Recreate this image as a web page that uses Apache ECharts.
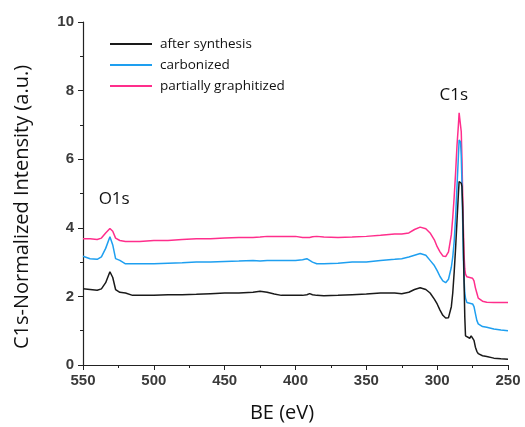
<!DOCTYPE html>
<html>
<head>
<meta charset="utf-8">
<script src="https://cdn.jsdelivr.net/npm/echarts@6/dist/echarts.min.js"></script>
<style>
  html, body { margin: 0; padding: 0; background: #fff; }
  #chart { width: 525px; height: 427px; }
</style>
</head>
<body>
<div id="chart"></div>
<script>
// Binding energy (eV) sampling points shared by all three spectra
const bindingEnergy = [550,545,540,537,534,531,529,527,524,520,515,510,500,490,480,470,460,450,440,430,425,420,415,410,400,395,392,390,388,385,380,370,360,350,340,330,325,320,316,312,308,305,302,300,298,296,294,292,290,289,288,287,286,285,284.5,283.5,283,282.5,282,281.5,281,280.5,280,279,277,276,275,274,273,272,271,270,268,265,260,255,250];

// C1s-normalized intensities (a.u.)
const afterSynthesis = [2.22,2.2,2.18,2.22,2.4,2.72,2.55,2.2,2.12,2.1,2.03,2.03,2.03,2.05,2.05,2.06,2.08,2.1,2.1,2.12,2.15,2.12,2.07,2.03,2.03,2.03,2.05,2.08,2.05,2.03,2.02,2.03,2.05,2.07,2.1,2.1,2.08,2.12,2.2,2.25,2.2,2.1,1.92,1.78,1.6,1.45,1.37,1.38,1.7,2.1,2.7,3.4,4.2,5.0,5.35,5.38,5.3,5.2,4.6,3.6,2.4,1.4,0.85,0.8,0.78,0.85,0.83,0.72,0.52,0.4,0.33,0.3,0.27,0.25,0.2,0.18,0.17];
const carbonized = [3.17,3.1,3.08,3.15,3.4,3.74,3.5,3.1,3.05,2.95,2.95,2.95,2.95,2.97,2.98,3.0,3.0,3.02,3.03,3.05,3.03,3.05,3.05,3.05,3.05,3.07,3.1,3.05,3.0,2.95,2.95,2.97,3.0,3.0,3.05,3.08,3.1,3.15,3.2,3.25,3.2,3.05,2.9,2.75,2.58,2.45,2.4,2.5,2.85,3.15,3.6,4.3,5.2,6.1,6.56,6.5,6.1,5.3,4.2,3.1,2.5,2.1,1.95,1.82,1.8,1.78,1.78,1.7,1.5,1.3,1.2,1.15,1.12,1.1,1.05,1.02,1.0];
const partiallyGraphitized = [3.68,3.68,3.66,3.7,3.85,3.98,3.9,3.7,3.63,3.6,3.6,3.6,3.63,3.63,3.66,3.68,3.68,3.7,3.72,3.72,3.73,3.75,3.75,3.75,3.75,3.72,3.72,3.72,3.74,3.75,3.73,3.72,3.73,3.75,3.78,3.82,3.82,3.85,3.95,4.02,3.97,3.85,3.65,3.45,3.3,3.18,3.16,3.3,3.8,4.3,4.9,5.6,6.4,7.0,7.35,7.3,6.8,6.0,5.0,4.0,3.2,2.8,2.65,2.57,2.55,2.55,2.53,2.45,2.25,2.1,1.95,1.9,1.86,1.83,1.82,1.82,1.82];

const seriesNames = ['after synthesis', 'carbonized', 'partially graphitized'];
const seriesValues = [afterSynthesis, carbonized, partiallyGraphitized];
const seriesColors = ['#1a1a1a', '#1e9ff0', '#ff2e8c'];

// Peak annotations: [text, BE, intensity]
const peakLabels = [['O1s', 528, 4.84], ['C1s', 288.3, 7.87]];

const xTicks = { min: 250, max: 550, interval: 50 };
const yTicks = { min: 0, max: 10, interval: 2 };

const tickFont = { fontFamily: 'Liberation Sans, Arial, sans-serif', fontWeight: 'bold', fontSize: 15, color: '#3a3a3a' };
const textFont = 'Open Sans, sans-serif';

const chart = echarts.init(document.getElementById('chart'), null, { renderer: 'canvas' });

const series = seriesNames.map((name, i) => ({
  name,
  type: 'line',
  data: bindingEnergy.map((x, j) => [x, seriesValues[i][j]]),
  showSymbol: false,
  symbol: 'none',
  lineStyle: { color: seriesColors[i], width: 1.5 },
  itemStyle: { color: seriesColors[i] },
  z: 3 - i,
  animation: false
}));

series[0].markPoint = {
  symbol: 'circle',
  symbolSize: 0,
  silent: true,
  data: peakLabels.map(([t, x, y]) => ({
    coord: [x, y],
    value: t,
    label: { show: true, formatter: t, position: 'inside', color: '#111', fontSize: 17, fontFamily: textFont }
  }))
};

chart.setOption({
  animation: false,
  backgroundColor: '#fff',
  grid: { left: 83, right: 17, top: 22, bottom: 62, containLabel: false },
  legend: {
    orient: 'vertical',
    left: 105,
    top: 32,
    icon: 'rect',
    itemWidth: 42,
    itemHeight: 2,
    itemGap: 7,
    data: seriesNames,
    textStyle: { fontFamily: textFont, fontSize: 13.5, color: '#111', padding: [0, 0, 0, 3] }
  },
  xAxis: {
    type: 'value',
    inverse: true,
    min: xTicks.min,
    max: xTicks.max,
    interval: xTicks.interval,
    axisLine: { show: true, lineStyle: { color: '#222', width: 1.2 } },
    axisTick: { show: true, inside: false, length: 5, lineStyle: { color: '#222' } },
    minorTick: { show: true, splitNumber: 2, length: 3, lineStyle: { color: '#222' } },
    splitLine: { show: false },
    axisLabel: Object.assign({ margin: 8 }, tickFont)
  },
  yAxis: {
    type: 'value',
    min: yTicks.min,
    max: yTicks.max,
    interval: yTicks.interval,
    axisLine: { show: true, lineStyle: { color: '#222', width: 1.2 } },
    axisTick: { show: true, inside: false, length: 5, lineStyle: { color: '#222' } },
    minorTick: { show: true, splitNumber: 2, length: 3, lineStyle: { color: '#222' } },
    splitLine: { show: false },
    axisLabel: Object.assign({ margin: 9 }, tickFont)
  },
  graphic: [
    {
      type: 'text',
      x: 22, y: 207,
      rotation: Math.PI / 2,
      style: { text: 'C1s-Normalized Intensity (a.u.)', font: '20px ' + textFont, fill: '#111', align: 'center', verticalAlign: 'middle' }
    },
    {
      type: 'text',
      x: 282, y: 413,
      style: { text: 'BE (eV)', font: '20px ' + textFont, fill: '#111', align: 'center', verticalAlign: 'middle' }
    }
  ],
  series
});
</script>
</body>
</html>
